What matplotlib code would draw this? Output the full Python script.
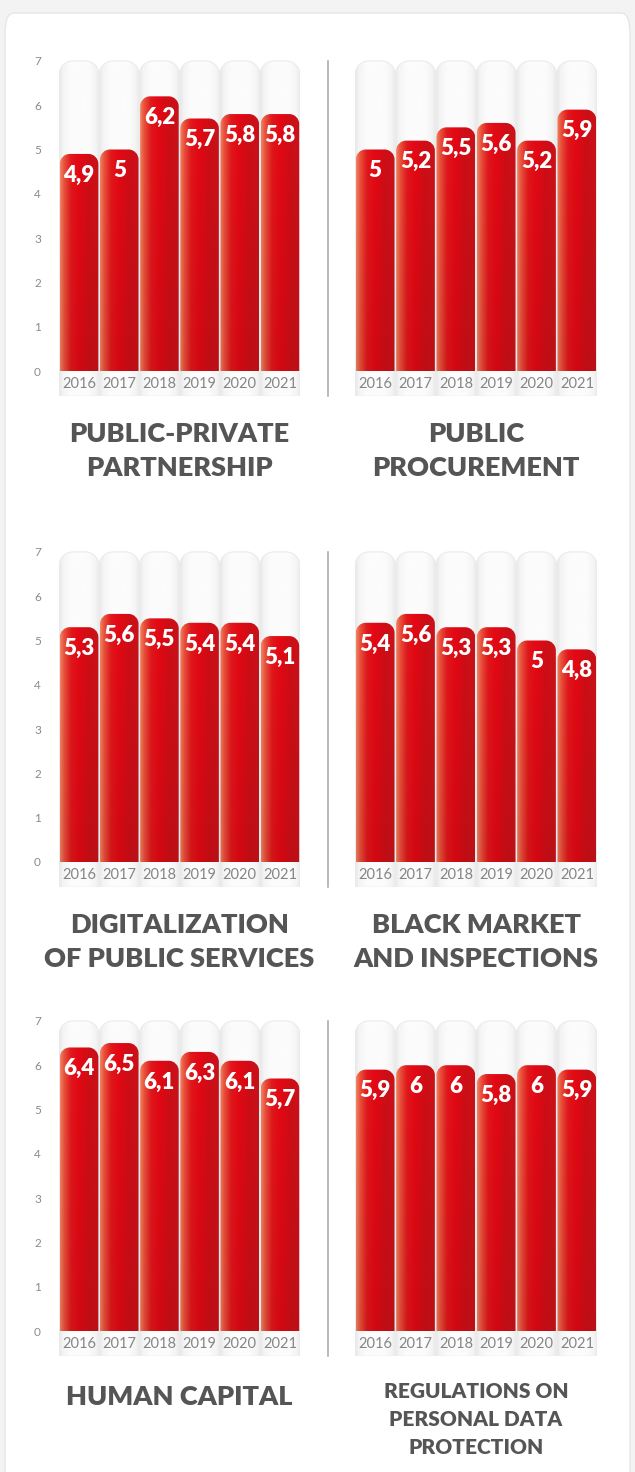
import numpy as np
import matplotlib
matplotlib.use("Agg")
import matplotlib.pyplot as plt
from matplotlib.path import Path
from matplotlib.patches import PathPatch, FancyBboxPatch
from matplotlib.lines import Line2D

plt.rcParams['font.family'] = ['Lato', 'DejaVu Sans']

# ---- data -------------------------------------------------------------
years = ["2016", "2017", "2018", "2019", "2020", "2021"]

ppp = [4.9, 5.0, 6.2, 5.7, 5.8, 5.8]
procurement = [5.0, 5.2, 5.5, 5.6, 5.2, 5.9]
digital = [5.3, 5.6, 5.5, 5.4, 5.4, 5.1]
black_market = [5.4, 5.6, 5.3, 5.3, 5.0, 4.8]
human_capital = [6.4, 6.5, 6.1, 6.3, 6.1, 5.7]
data_protection = [5.9, 6.0, 6.0, 5.8, 6.0, 5.9]

titles = [
    ["PUBLIC-PRIVATE", "PARTNERSHIP"],
    ["PUBLIC", "PROCUREMENT"],
    ["DIGITALIZATION", "OF PUBLIC SERVICES"],
    ["BLACK MARKET", "AND INSPECTIONS"],
    ["HUMAN CAPITAL"],
    ["REGULATIONS ON", "PERSONAL DATA", "PROTECTION"],
]
series = [ppp, procurement, digital, black_market, human_capital, data_protection]
y_ticks = list(range(8))

# ---- layout (pixels) --------------------------------------------------
W, H = 635, 1472
DPI = 100
PX_PER_UNIT = 44.3
COL_X = [(59, 300), (355, 597)]
ROW_ZERO = [371, 862, 1331]
Y_LO, Y_HI = -0.57, 7.06

fig = plt.figure(figsize=(W / DPI, H / DPI), dpi=DPI)
fig.patch.set_facecolor("#f3f3f3")

# white card behind everything
card = FancyBboxPatch((5 / W, -0.05), 625 / W, (H - 13) / H + 0.05,
                      boxstyle="round,pad=0,rounding_size=0.014",
                      transform=fig.transFigure, facecolor="white",
                      edgecolor="#e6e6e6", linewidth=1.0, zorder=-10)
fig.add_artist(card)


def rounded_top_path(x0, x1, y0, y1, rx, ry):
    k = 0.5523
    verts = [
        (x0, y0), (x0, y1 - ry),
        (x0, y1 - ry + k * ry), (x0 + rx - k * rx, y1), (x0 + rx, y1),
        (x1 - rx, y1),
        (x1 - rx + k * rx, y1), (x1, y1 - ry + k * ry), (x1, y1 - ry),
        (x1, y0), (x0, y0),
    ]
    codes = [Path.MOVETO, Path.LINETO,
             Path.CURVE4, Path.CURVE4, Path.CURVE4,
             Path.LINETO,
             Path.CURVE4, Path.CURVE4, Path.CURVE4,
             Path.LINETO, Path.CLOSEPOLY]
    return Path(verts, codes)


def colour_ramp(stops, n):
    pos = np.array([s[0] for s in stops])
    cols = np.array([s[1] for s in stops], dtype=float) / 255.0
    x = np.linspace(0, 1, n)
    return np.stack([np.interp(x, pos, cols[:, c]) for c in range(3)], axis=1)


bar_ramp = colour_ramp([
    (0.00, (240, 132, 100)),
    (0.10, (234, 82, 60)),
    (0.28, (224, 24, 28)),
    (0.48, (228, 8, 20)),
    (0.75, (206, 14, 22)),
    (1.00, (202, 18, 26)),
], 64)
vert = np.linspace(0.93, 1.0, 32)[:, None, None]
bar_img = np.clip(bar_ramp[None, :, :] * vert, 0, 1)

bg_ramp = colour_ramp([
    (0.00, (232, 232, 232)),
    (0.10, (245, 245, 245)),
    (0.30, (252, 252, 252)),
    (0.70, (252, 252, 252)),
    (0.90, (245, 245, 245)),
    (1.00, (232, 232, 232)),
], 64)
bg_img = bg_ramp[None, :, :]

for idx, values in enumerate(series):
    row, col = divmod(idx, 2)
    xl, xr = COL_X[col]
    zero = ROW_ZERO[row]
    top_px = zero - Y_HI * PX_PER_UNIT
    bot_px = zero - Y_LO * PX_PER_UNIT
    ax = fig.add_axes([xl / W, 1 - bot_px / H, (xr - xl) / W, (bot_px - top_px) / H])
    ax.set_xlim(-0.5, len(years) - 0.5)
    ax.set_ylim(Y_LO, Y_HI)
    ax.patch.set_alpha(0)
    for s in ax.spines.values():
        s.set_visible(False)
    ax.set_xticks([])
    if col == 0:
        ax.set_yticks(y_ticks)
        ax.set_yticklabels([str(t) for t in y_ticks], fontsize=8.5, color="#8a8a8a")
        ax.tick_params(axis="y", length=0, pad=13)
    else:
        ax.set_yticks([])

    ux = (xr - xl) / len(years)  # px per x unit
    # background columns
    for i in range(len(years)):
        x0, x1 = i - 0.5, i + 0.5
        p = rounded_top_path(x0, x1, Y_LO, 7.0, 14 / ux, 14 / PX_PER_UNIT)
        patch = PathPatch(p, facecolor="none", edgecolor="#ebebeb", linewidth=0.8, zorder=1)
        ax.add_patch(patch)
        im = ax.imshow(bg_img, extent=(x0, x1, Y_LO, 7.0), aspect="auto",
                       origin="lower", zorder=0.9, interpolation="bilinear")
        im.set_clip_path(patch)

    # bars
    bw = 0.96
    for i, v in enumerate(values):
        x0, x1 = i - bw / 2, i + bw / 2
        p = rounded_top_path(x0, x1, 0, v, 10 / ux, 10 / PX_PER_UNIT)
        patch = PathPatch(p, facecolor="none", edgecolor="none", zorder=2)
        ax.add_patch(patch)
        im = ax.imshow(bar_img, extent=(x0, x1, 0, v), aspect="auto",
                       origin="lower", zorder=2, interpolation="bilinear")
        im.set_clip_path(patch)
        label = f"{v:g}".replace(".", ",")
        ax.text(i, v - 0.48, label, ha="center", va="center", color="white",
                fontsize=16, fontweight="heavy", zorder=3)
        ax.text(i, -0.29, years[i], ha="center", va="center", color="#858585",
                fontsize=10.5, zorder=3)

    # panel title
    cx = (xl + xr) / 2 / W
    lines = titles[idx]
    if len(lines) == 3:
        ys = [zero + 61, zero + 89, zero + 117]
        fs = 15
    elif len(lines) == 2:
        ys = [zero + 63, zero + 97]
        fs = 19.5
    else:
        ys = [zero + 66]
        fs = 19.5
    for line, yp in zip(lines, ys):
        fig.text(cx, 1 - yp / H, line, ha="center", va="center", fontsize=fs,
                 fontweight="heavy", color="#555555")

# vertical dividers between the two columns
for zero in ROW_ZERO:
    y_top = zero - 7.0 * PX_PER_UNIT
    y_bot = zero + 25
    fig.add_artist(Line2D([328 / W, 328 / W], [1 - y_top / H, 1 - y_bot / H],
                          transform=fig.transFigure, color="#a5a5a5", linewidth=1.1))

fig.savefig("out.png", dpi=DPI, facecolor=fig.get_facecolor())
